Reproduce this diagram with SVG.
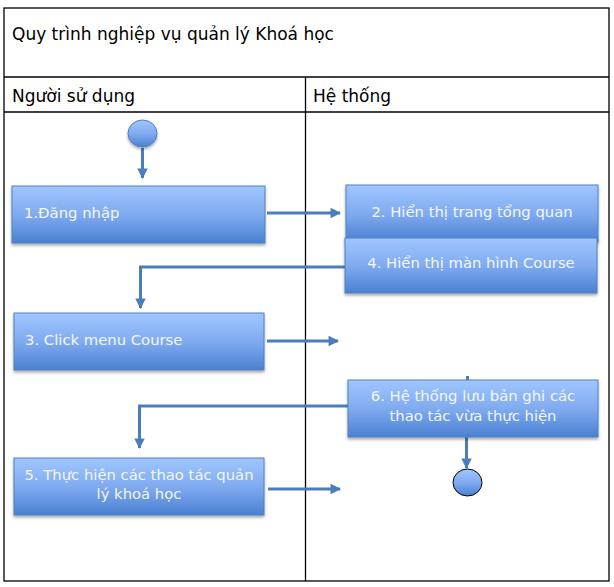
<svg xmlns="http://www.w3.org/2000/svg" width="614" height="587" viewBox="0 0 614 587">
<defs>
<linearGradient id="g" x1="0" y1="0" x2="0" y2="1">
<stop offset="0" stop-color="#a0c6ff"/>
<stop offset="0.5" stop-color="#80abf0"/>
<stop offset="1" stop-color="#4a80d2"/>
</linearGradient>
<filter id="sh" x="-10%" y="-10%" width="120%" height="130%">
<feDropShadow dx="0" dy="2" stdDeviation="1.5" flood-color="#000" flood-opacity="0.35"/>
</filter>
<marker id="ah" viewBox="0 0 10 10" refX="9" refY="5" markerWidth="4" markerHeight="3.5" orient="auto" markerUnits="strokeWidth">
<path d="M0,0 L10,5 L0,10 z" fill="#4a7ebb"/>
</marker>
<style>
.frame{fill:none;stroke:#000;stroke-width:1.3}
.lbl{font-family:"DejaVu Sans",sans-serif;font-size:17px;fill:#000}
.box{fill:url(#g);stroke:#4f81bd;stroke-width:1;filter:url(#sh)}
.bt{font-family:"DejaVu Sans",sans-serif;font-size:14.8px;fill:#f4f6fb}
.c{text-anchor:middle}
.conn{fill:none;stroke:#4a7ebb;stroke-width:3}
</style>
</defs>
<g id="frame">
<rect class="frame" x="4" y="8" width="605" height="573"/>
<line class="frame" x1="4" y1="77" x2="609" y2="77"/>
<line class="frame" x1="4" y1="112" x2="609" y2="112"/>
<line class="frame" x1="305.5" y1="77" x2="305.5" y2="581"/>
<text class="lbl" x="12" y="40">Quy trình nghiệp vụ quản lý Khoá học</text>
<text class="lbl" x="12" y="102">Người sử dụng</text>
<text class="lbl" x="313" y="102">Hệ thống</text>
</g>
<g id="connectors">
<line class="conn" x1="142.5" y1="148" x2="142.5" y2="178" marker-end="url(#ah)"/>
<line class="conn" x1="267" y1="213" x2="340" y2="213" marker-end="url(#ah)"/>
<polyline class="conn" points="345,267 140.5,267 140.5,308" marker-end="url(#ah)"/>
<line class="conn" x1="267" y1="341" x2="338" y2="341" marker-end="url(#ah)"/>
<line class="conn" x1="467.5" y1="376" x2="467.5" y2="381"/>
<polyline class="conn" points="348,406 139.5,406 139.5,448" marker-end="url(#ah)"/>
<line class="conn" x1="268" y1="489" x2="340" y2="489" marker-end="url(#ah)"/>
<line class="conn" x1="466.5" y1="437" x2="466.5" y2="468" marker-end="url(#ah)"/>
</g>
<g id="start">
<ellipse cx="142.5" cy="133.5" rx="14.5" ry="13.5" fill="url(#g)" stroke="#4f81bd" stroke-width="1" filter="url(#sh)"/>
</g>
<g id="n1">
<rect class="box" x="12" y="186" width="253" height="57"/>
<text class="bt" x="24" y="218">1.Đăng nhập</text>
</g>
<g id="n2">
<rect class="box" x="346" y="185" width="252" height="57"/>
<text class="bt c" x="472" y="217">2. Hiển thị trang tổng quan</text>
</g>
<g id="n4">
<rect class="box" x="345" y="238" width="252" height="55"/>
<text class="bt c" x="471" y="268">4. Hiển thị màn hình Course</text>
</g>
<g id="n3">
<rect class="box" x="14" y="313" width="250" height="57"/>
<text class="bt" x="25" y="345">3. Click menu Course</text>
</g>
<g id="n6">
<rect class="box" x="348" y="380" width="250" height="57"/>
<text class="bt c" x="473" y="401">6. Hệ thống lưu bản ghi các</text>
<text class="bt c" x="473" y="421">thao tác vừa thực hiện</text>
</g>
<g id="n5">
<rect class="box" x="14" y="458" width="250" height="57"/>
<text class="bt c" x="139" y="480">5. Thực hiện các thao tác quản</text>
<text class="bt c" x="139" y="499">lý khoá học</text>
</g>
<g id="end">
<ellipse cx="467.5" cy="482.5" rx="14.5" ry="13.5" fill="url(#g)" stroke="#000" stroke-width="1"/>
</g>
</svg>
